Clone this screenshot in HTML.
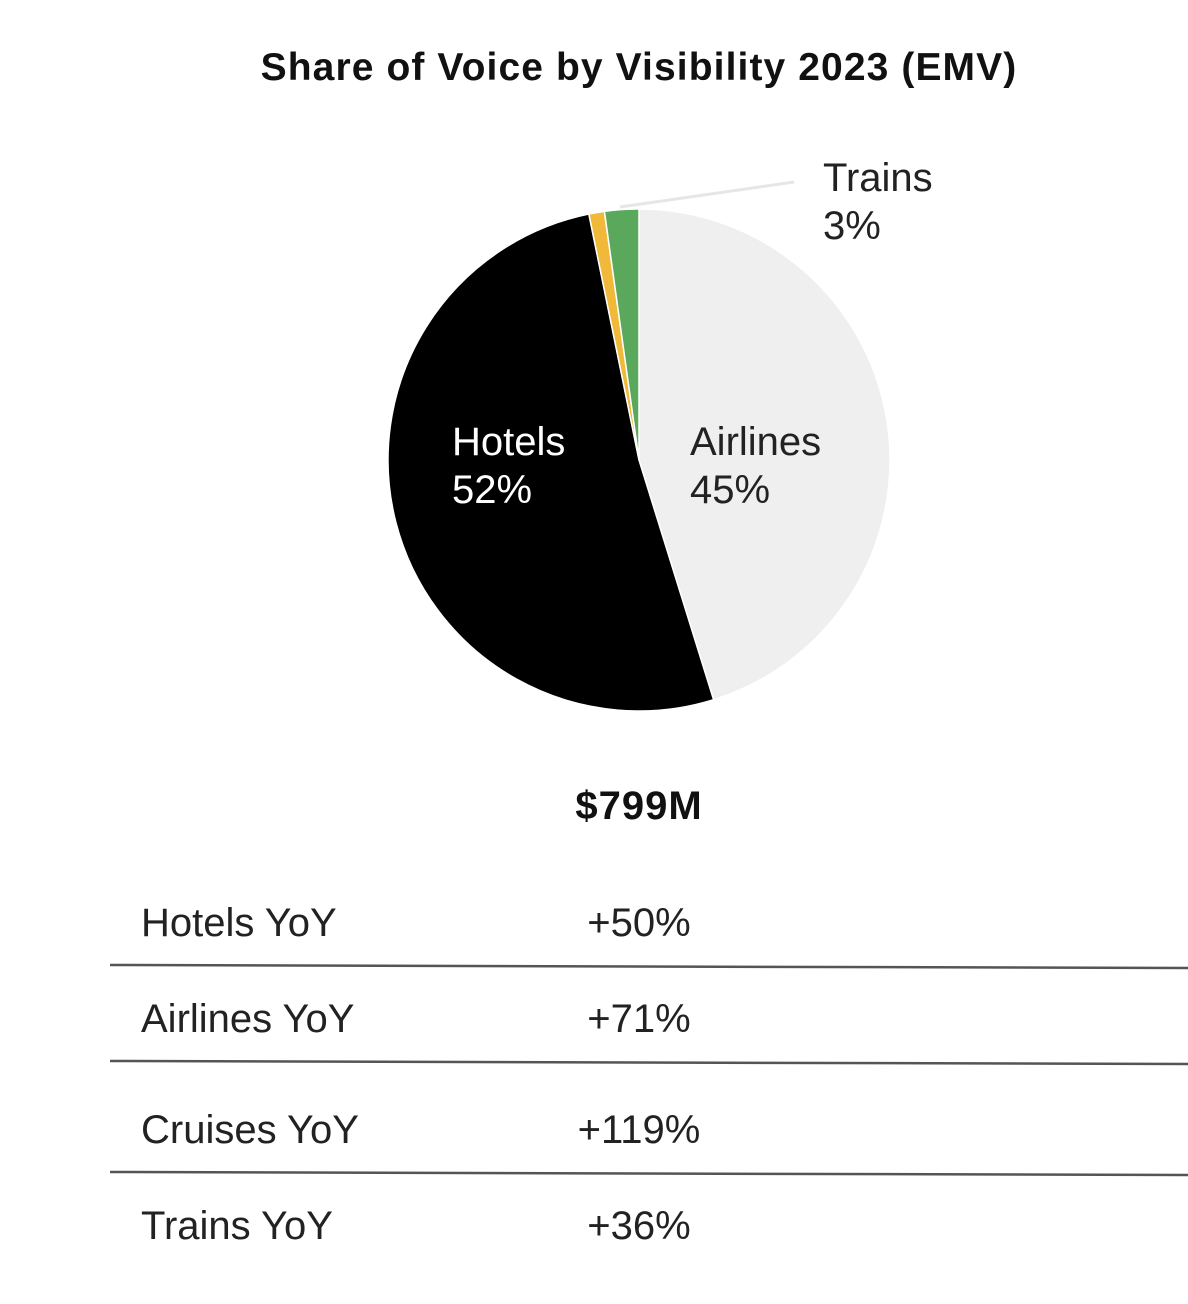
<!DOCTYPE html>
<html><head><meta charset="utf-8"><style>
body{margin:0;background:#fff;}
svg{display:block;font-family:"Liberation Sans",sans-serif;}
</style></head><body>
<svg id="chart" width="1188" height="1304" viewBox="0 0 1188 1304">
<text x="639" y="80" text-anchor="middle" font-size="39" letter-spacing="1.1" font-weight="bold" fill="#111">Share of Voice by Visibility 2023 (EMV)</text>
<g id="pie"></g>
<line x1="620" y1="207" x2="794" y2="182" stroke="#e6e6e6" stroke-width="3"/>
<text font-size="40" fill="#222"><tspan x="823" y="191">Trains</tspan><tspan x="823" y="239">3%</tspan></text>
<text font-size="40" fill="#fff"><tspan x="452" y="455">Hotels</tspan><tspan x="452" y="503">52%</tspan></text>
<text font-size="40" fill="#222"><tspan x="690" y="455">Airlines</tspan><tspan x="690" y="503">45%</tspan></text>
<text x="639" y="819" text-anchor="middle" font-size="40" letter-spacing="1" font-weight="bold" fill="#111">$799M</text>
<g id="table"></g>
</svg>
<script>
const categories=["Airlines","Hotels","Cruises","Trains"];
const shares=[45.2,51.6,1.0,2.2];
const colors=["#efefef","#000000","#f0b93a","#5aa85c"];
const yoyLabels=["Hotels YoY","Airlines YoY","Cruises YoY","Trains YoY"];
const yoyValues=["+50%","+71%","+119%","+36%"];
const NS="http://www.w3.org/2000/svg";
const cx=639,cy=460,r=251;
const total=shares.reduce((a,b)=>a+b,0);
const pie=document.getElementById('pie');
let acc=0;
function pt(a){return [cx+r*Math.sin(a),cy-r*Math.cos(a)];}
shares.forEach((v,i)=>{
  const a0=acc/total*2*Math.PI; acc+=v; const a1=acc/total*2*Math.PI;
  const p0=pt(a0),p1=pt(a1);
  const large=(a1-a0)>Math.PI?1:0;
  const p=document.createElementNS(NS,'path');
  p.setAttribute('d',`M${cx},${cy}L${p0[0]},${p0[1]}A${r},${r} 0 ${large} 1 ${p1[0]},${p1[1]}Z`);
  p.setAttribute('fill',colors[i]);
  p.setAttribute('stroke','#fff');
  p.setAttribute('stroke-width','1.5');
  
  
  pie.appendChild(p);
});
const table=document.getElementById('table');
const rowY=[936,1032,1143,1239];
const lineY=[966,1062,1173];
yoyLabels.forEach((l,i)=>{
  const t=document.createElementNS(NS,'text');
  t.setAttribute('x',141);t.setAttribute('y',rowY[i]);
  t.setAttribute('font-size','40');t.setAttribute('fill','#222');
  t.textContent=l;
  
  
  table.appendChild(t);
  const v=document.createElementNS(NS,'text');
  v.setAttribute('x',639);v.setAttribute('y',rowY[i]);
  v.setAttribute('text-anchor','middle');
  v.setAttribute('font-size','40');v.setAttribute('fill','#222');
  v.textContent=yoyValues[i];
  
  
  table.appendChild(v);
});
lineY.forEach(y=>{
  const ln=document.createElementNS(NS,'line');
  ln.setAttribute('x1',110);ln.setAttribute('x2',1188);
  ln.setAttribute('y1',y-1);ln.setAttribute('y2',y+2);
  ln.setAttribute('stroke','#555');ln.setAttribute('stroke-width','2.5');
  
  
  table.appendChild(ln);
});
</script>
</body></html>
